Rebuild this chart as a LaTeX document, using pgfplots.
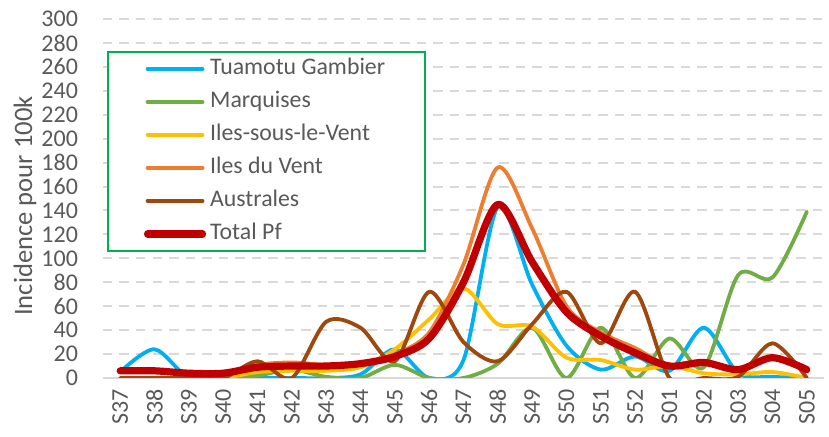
\documentclass[border=0pt]{standalone}
\usepackage{fontspec}
\setmainfont{Carlito}
\usepackage{pgfplots}
\usepackage{pgfplotstable}
\pgfplotsset{compat=1.18}
\definecolor{cTG}{HTML}{00B0F0}
\definecolor{cMQ}{HTML}{70AD47}
\definecolor{cISV}{HTML}{FFC000}
\definecolor{cIDV}{HTML}{ED7D31}
\definecolor{cAU}{HTML}{9E480E}
\definecolor{cTOT}{HTML}{C00000}
\definecolor{txt}{HTML}{595959}
\definecolor{grid}{HTML}{D9D9D9}
\definecolor{lgbox}{HTML}{00B050}
\pgfplotstableread{
x tg mq isv idv au tot
0 5 0 0 5 0 6
1 24 0 0 5 0 6
2 0 0 0 3 0 4
3 0 0 0 4 0 4
4 0 2 5 11 14 9
5 0 7 6 13 0 10
6 0 1 6 11 47 10
7 3 0 9 12 42 12
8 24 11 24 20 14 18
9 0 0 49 38 72 33
10 15 0 75 95 30 80
11 143 12 45 176 14 145
12 78 42 43 125 45 97
13 27 0 17 60 72 55
14 7 42 15 38 29 35
15 18 0 7 25 72 21
16 6 33 10 10 0 10
17 42 9 4 12 0 13
18 4 86 3 6 1 7
19 1 84 5 17 29 17
20 0 139 0 6 0 7
}\data
\begin{document}
\begin{tikzpicture}
\begin{axis}[
  name=a,
  width=360.5pt, height=179.5pt, scale only axis,
  xmin=-0.5, xmax=20.5, ymin=0, ymax=300,
  axis x line=bottom, axis y line=left,
  x axis line style={draw=grid, line width=1pt, -},
  y axis line style={draw=none},
  xtick=data,
  xticklabels={S37,S38,S39,S40,S41,S42,S43,S44,S45,S46,S47,S48,S49,S50,S51,S52,S01,S02,S03,S04,S05},
  ytick={0,20,...,300},
  major tick length=0pt,
  tick style={draw=none},
  ymajorgrids,
  grid style={draw=grid, line width=1pt, dash pattern=on 4.75pt off 3.5pt},
  /pgf/number format/assume math mode=true,
  ticklabel style={font=\fontsize{12}{14}\selectfont, text=txt},
  xticklabel style={rotate=90, anchor=east},
  xticklabel shift=2pt,
  yticklabel shift=9pt,
  ylabel={Incidence pour 100k},
  ylabel style={font=\fontsize{13.3}{15}\selectfont, text=txt, at={(axis description cs:-0.108,0.479)}, anchor=center, rotate=0},
  legend style={at={(0.0055,0.911)}, anchor=north west, draw=lgbox, line width=1pt, fill=white,
    font=\fontsize{11.9}{14}\selectfont, text=txt,
    inner xsep=18pt, inner ysep=2.5pt, row sep=4.5pt,
    nodes={inner xsep=2pt, inner ysep=0pt, text height=9pt, text depth=3pt}},
  legend cell align=left,
  legend image code/.code={\draw[#1] (0pt,0pt) -- (27.5pt,0pt);},
  every axis plot/.append style={smooth, line join=round, line cap=round},
]
\addplot[cTG, line width=1.9pt] table[x=x, y=tg] {\data};
\addlegendentry{Tuamotu Gambier}
\addplot[cMQ, line width=1.9pt] table[x=x, y=mq] {\data};
\addlegendentry{Marquises}
\addplot[cISV, line width=1.9pt] table[x=x, y=isv] {\data};
\addlegendentry{Iles-sous-le-Vent}
\addplot[cIDV, line width=1.9pt] table[x=x, y=idv] {\data};
\addlegendentry{Iles du Vent}
\addplot[cAU, line width=1.9pt] table[x=x, y=au] {\data};
\addlegendentry{Australes}
\addplot[cTOT, line width=3.6pt] table[x=x, y=tot] {\data};
\addlegendentry{Total Pf}
\end{axis}
\pgfresetboundingbox
\useasboundingbox ([xshift=-51.5pt,yshift=-29.5pt]a.south west) rectangle ([xshift=2.5pt,yshift=9.5pt]a.north east);
\end{tikzpicture}
\end{document}
